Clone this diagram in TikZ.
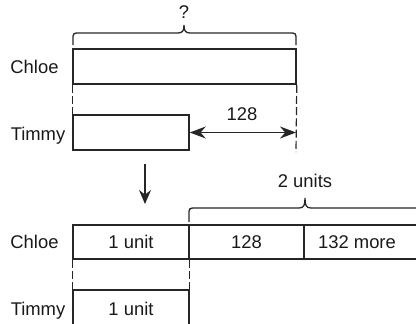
\documentclass[tikz,border=0pt]{standalone}
\usepackage{fontspec}
\setmainfont{Liberation Sans}
\usetikzlibrary{arrows.meta}
\begin{document}
\begin{tikzpicture}[x=0.5pt,y=-0.5pt,
  bar/.style={draw=black!85,line width=0.75pt},
  guide/.style={draw=black!85,line width=0.6pt,dash pattern=on 4pt off 1.6pt},
  brc/.style={draw=black!85,line width=0.65pt},
  lbl/.style={anchor=base,inner sep=0pt,font=\fontsize{9.2}{11}\selectfont,text=black!90},
  dim/.style={draw=black!85,line width=0.65pt,{Stealth[length=8pt,width=6pt]}-{Stealth[length=8pt,width=6pt]}},
  down/.style={draw=black!85,line width=0.65pt,-{Stealth[length=7pt,width=6pt]}}]
\useasboundingbox (0,0) rectangle (416,323);
% ---------- top diagram ----------
\node[lbl] (q) at (184,18) {?};
\draw[brc] (73,45) -- (73,40) .. controls (73,33) .. (80,33) -- (178,33)
  .. controls (183,33) and (184,30) .. (184,25)
  .. controls (184,30) and (185,33) .. (190,33) -- (289,33)
  .. controls (296,33) .. (296,40) -- (296,45);
\node[bar,minimum width=111.5pt,minimum height=17.5pt,inner sep=0pt] (chloeA) at (184.5,66.5) {};
\node[lbl] (cA) at (34.5,73) {Chloe};
\node[bar,minimum width=58pt,minimum height=17.5pt,inner sep=0pt] (timmyA) at (131,132.5) {};
\node[lbl] (tA) at (38,140) {Timmy};
\coordinate (dR) at (296,152);
\draw[guide] (chloeA.south west) -- (timmyA.north west);
\draw[guide] (chloeA.south east) -- (dR);
\coordinate (aR) at (296,132.5);
\draw[dim] (timmyA.east) -- (aR);
\node[lbl] (n128A) at (242,120) {128};
% ---------- arrow ----------
\coordinate (arT) at (145,164);
\coordinate (arB) at (145,204);
\draw[down] (arT) -- (arB);
% ---------- bottom diagram ----------
\node[lbl] (two) at (305,187) {2 units};
\draw[brc] (189,222) -- (189,215) .. controls (189,208) .. (196,208) -- (299,208)
  .. controls (304,208) and (305,205) .. (305,198)
  .. controls (305,205) and (306,208) .. (311,208) -- (414,208)
  .. controls (421,208) .. (421,215) -- (421,222);
\node[bar,minimum width=58pt,minimum height=17pt,inner sep=0pt] (c1) at (131,242) {};
\node[bar,minimum width=57.5pt,minimum height=17pt,inner sep=0pt] (c2) at (246.5,242) {};
\node[bar,minimum width=58pt,minimum height=17pt,inner sep=0pt] (c3) at (362,242) {};
\node[lbl] at (131,248) {1 unit};
\node[lbl] at (246.5,248) {128};
\node[lbl] at (357,248) {132 more};
\node[lbl] (cB) at (34.5,248) {Chloe};
\node[bar,minimum width=58pt,minimum height=24pt,inner sep=0pt] (timmyB) at (131,314) {};
\node[lbl] at (131,315) {1 unit};
\node[lbl] (tB) at (38,315) {Timmy};
\draw[guide] (c1.south west) -- (timmyB.north west);
\draw[guide] (c1.south east) -- (timmyB.north east);
\end{tikzpicture}
\end{document}
